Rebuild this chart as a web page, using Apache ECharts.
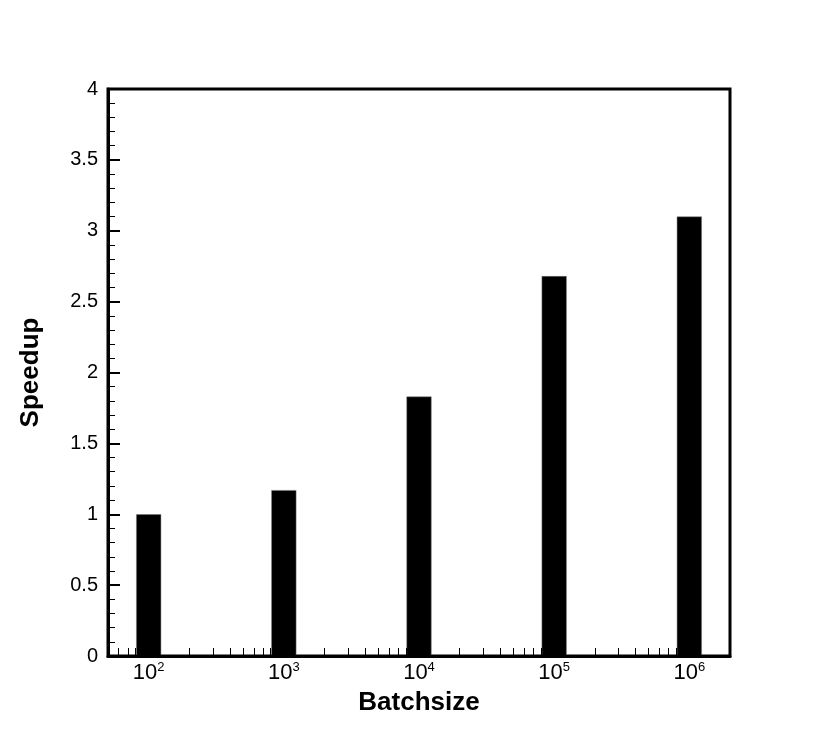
<!DOCTYPE html>
<html>
<head>
<meta charset="utf-8">
<script src="https://cdn.jsdelivr.net/npm/echarts@6/dist/echarts.min.js"></script>
<style>
html,body{margin:0;padding:0;background:#fff;}
#chart{width:830px;height:738px;}
</style>
</head>
<body>
<div id="chart"></div>
<script>
// Data
const batchSizes = [1e2, 1e3, 1e4, 1e5, 1e6];
const speedups = [1.00, 1.17, 1.83, 2.68, 3.10];
const xMajorTicks = [1e2, 1e3, 1e4, 1e5, 1e6];
const xMinorTicks = [60, 70, 80, 90,
  200, 300, 400, 500, 600, 700, 800, 900,
  2000, 3000, 4000, 5000, 6000, 7000, 8000, 9000,
  2e4, 3e4, 4e4, 5e4, 6e4, 7e4, 8e4, 9e4,
  2e5, 3e5, 4e5, 5e5, 6e5, 7e5, 8e5, 9e5];
const xAxisTitle = 'Batchsize';
const yAxisTitle = 'Speedup';

const font = '"Liberation Sans", Arial, Helvetica, sans-serif';
const chart = echarts.init(document.getElementById('chart'));
chart.setOption({
  backgroundColor: '#fff',
  animation: false,
  grid: {
    left: 108, right: 100, top: 89, bottom: 82,
    show: true, borderColor: '#000', borderWidth: 3, backgroundColor: 'transparent'
  },
  xAxis: {
    type: 'log',
    logBase: 10,
    min: 50,
    max: 2e6,
    z: 5,
    name: xAxisTitle,
    nameLocation: 'middle',
    nameGap: 34,
    nameTextStyle: { fontFamily: font, fontWeight: 'bold', fontSize: 26, color: '#000' },
    axisLine: { show: true, lineStyle: { color: '#000', width: 3 } },
    axisTick: {
      show: true, inside: true, length: 8,
      lineStyle: { color: '#000', width: 1 },
      customValues: xMinorTicks.concat(xMajorTicks)
    },
    axisLabel: {
      customValues: xMajorTicks,
      margin: 5,
      fontFamily: font,
      formatter: function (v) {
        return '{b|10}{s|' + Math.round(Math.log10(v)) + '}';
      },
      rich: {
        b: { fontFamily: font, fontSize: 22, color: '#000' },
        s: { fontFamily: font, fontSize: 13, color: '#000', verticalAlign: 'top', padding: [0, 0, 10, 0] }
      }
    },
    splitLine: { show: false },
    minorTick: { show: false },
    minorSplitLine: { show: false }
  },
  yAxis: {
    type: 'value',
    min: 0,
    max: 4,
    interval: 0.5,
    z: 5,
    name: yAxisTitle,
    nameLocation: 'middle',
    nameRotate: 90,
    nameGap: 64,
    nameTextStyle: { fontFamily: font, fontWeight: 'bold', fontSize: 26, color: '#000' },
    axisLine: { show: true, lineStyle: { color: '#000', width: 3 } },
    axisTick: { show: true, inside: true, length: 12, lineStyle: { color: '#000', width: 2 } },
    minorTick: { show: true, splitNumber: 5, length: 7, lineStyle: { color: '#000', width: 1 } },
    axisLabel: { fontFamily: font, fontSize: 20, color: '#000', margin: 10 },
    splitLine: { show: false },
    minorSplitLine: { show: false }
  },
  series: [{
    type: 'bar',
    barWidth: 25,
    data: batchSizes.map((b, i) => [b, speedups[i]]),
    itemStyle: { color: '#000', borderColor: '#777', borderWidth: 0.5 },
    z: 2
  }]
});
</script>
</body>
</html>
